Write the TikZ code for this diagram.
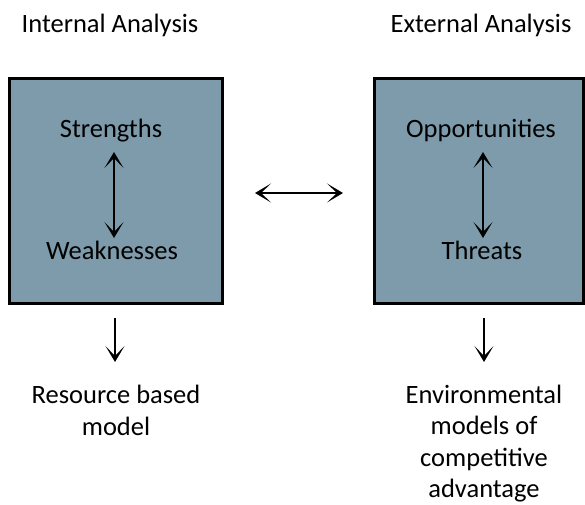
\documentclass[tikz,border=0pt]{standalone}
\usepackage{fontspec}
\setmainfont{Carlito}
\usetikzlibrary{arrows.meta}
\definecolor{boxfill}{RGB}{125,155,170}
\begin{document}
\begin{tikzpicture}[x=1pt,y=-1pt,
  lbl/.style={font=\fontsize{26.5}{31.5}\selectfont, inner sep=0pt, outer sep=0pt, anchor=base, align=center},
  panel/.style={draw=black, line width=3pt, fill=boxfill, minimum height=225pt, inner sep=0pt, outer sep=0pt},
  tip/.tip={Stealth[length=16pt,width=19pt,inset=10pt]},
  arr/.style={line width=1.3pt, -tip},
  darr/.style={line width=1.3pt, tip-tip}]
\useasboundingbox (0,0) rectangle (585,504);
% panels
\node[panel, minimum width=213pt] (L) at (116,191) {};
\node[panel, minimum width=209pt] (R) at (479,191) {};
% titles
\node[lbl] (IA) at (110,32) {Internal Analysis};
\node[lbl] (EA) at (481,32) {External Analysis};
% inner labels
\node[lbl] (S) at (111,137) {Strengths};
\node[lbl] (W) at (112,259) {Weaknesses};
\node[lbl] (O) at (481,137) {Opportunities};
\node[lbl] (T) at (482,259) {Threats};
% bottom labels (base = baseline of last line)
\node[lbl] (RB) at (116,435) {Resource based\\model};
\node[lbl] (EM) at (484,497.5) {Environmental\\models of\\competitive\\advantage};
% connectors
\draw[darr] ([xshift=3pt,yshift=-15pt]S.base) -- ([xshift=2pt,yshift=21pt]W.base);
\draw[darr] ([xshift=2pt,yshift=-15pt]O.base) -- ([xshift=1pt,yshift=21pt]T.base);
\draw[darr, shorten <=32.5pt, shorten >=31.5pt] ([yshift=-2pt]L.east) -- ([yshift=-2pt]R.west);
\draw[arr, shorten <=14.5pt] ([xshift=-1pt]L.south) -- ([xshift=-1pt,yshift=-58.5pt]L.south);
\draw[arr, shorten <=14.5pt] ([xshift=5pt]R.south) -- ([xshift=5pt,yshift=-58.5pt]R.south);
\end{tikzpicture}
\end{document}
